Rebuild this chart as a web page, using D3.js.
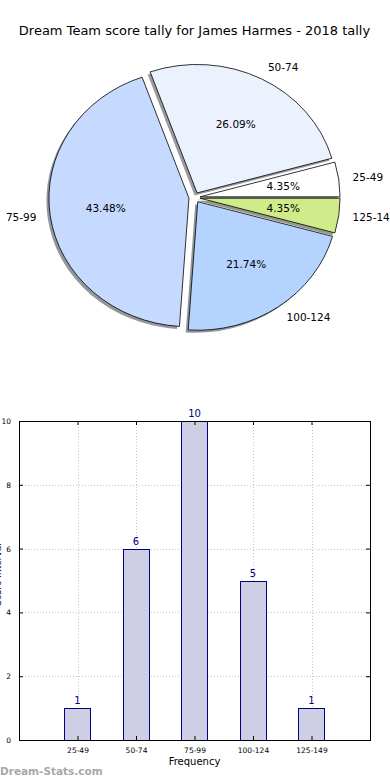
<!DOCTYPE html>
<html>
<head>
<meta charset="utf-8">
<script src="https://cdn.jsdelivr.net/npm/d3@7"></script>
<style>
  body { margin: 0; background: #fff; }
  svg { display: block; font-family: "DejaVu Sans", sans-serif; }
</style>
</head>
<body>
<div id="chart"></div>
<script>
const categories = ["25-49", "50-74", "75-99", "100-124", "125-149"];
const counts = [1, 6, 10, 5, 1];
const sliceColors = ["#ffffff", "#ebf2fe", "#c6d9fe", "#b4d4ff", "#cfeb8a"];
const yTicks = [0, 2, 4, 6, 8, 10];

const width = 390;
const height = 780;

const svg = d3.select("#chart")
    .append("svg")
    .attr("width", width)
    .attr("height", height);

svg.append("text")
    .attr("x", 194.5)
    .attr("y", 35)
    .attr("text-anchor", "middle")
    .style("font-size", "13px")
    .text("Dream Team score tally for James Harmes - 2018 tally");

// ---- pie (elliptical, like matplotlib without equal aspect) ----
const cx = 194.5, cy = 197.5, rx = 140, ry = 128.5;
const explode = 0.04;
const total = d3.sum(counts);

const pie = d3.pie()
    .sort(null)
    .startAngle(Math.PI / 2)
    .endAngle(Math.PI / 2 - 2 * Math.PI);
const arcs = pie(counts);
const unitArc = d3.arc().innerRadius(0).outerRadius(1);

const mid = d => (d.startAngle + d.endAngle) / 2;
const off = d => [explode * rx * Math.sin(mid(d)), -explode * ry * Math.cos(mid(d))];

const pieG = svg.append("g").attr("transform", `translate(${cx},${cy})`);

// shadows first, below every wedge
pieG.selectAll("path.shadow")
    .data(arcs)
    .enter().append("path")
    .attr("class", "shadow")
    .attr("transform", d => `translate(${off(d)[0] - 2.5},${off(d)[1] + 2.5}) scale(${rx},${ry})`)
    .attr("d", unitArc)
    .attr("fill", (d, i) => {
        const c = d3.rgb(sliceColors[i]);
        return d3.rgb(c.r * 0.3, c.g * 0.3, c.b * 0.3);
    })
    .attr("fill-opacity", 0.55)
    .attr("stroke", "none");

pieG.selectAll("path.wedge")
    .data(arcs)
    .enter().append("path")
    .attr("class", "wedge")
    .attr("transform", d => `translate(${off(d)[0]},${off(d)[1]}) scale(${rx},${ry})`)
    .attr("d", unitArc)
    .attr("fill", (d, i) => sliceColors[i])
    .attr("stroke", "#000")
    .attr("stroke-width", 0.8)
    .attr("vector-effect", "non-scaling-stroke");

pieG.selectAll("text.pct")
    .data(arcs)
    .enter().append("text")
    .attr("class", "pct")
    .attr("x", d => off(d)[0] + 0.6 * rx * Math.sin(mid(d)))
    .attr("y", d => off(d)[1] - 0.6 * ry * Math.cos(mid(d)))
    .attr("dy", "0.35em")
    .attr("text-anchor", "middle")
    .style("font-size", "10.5px")
    .text(d => (d.value / total * 100).toFixed(2) + "%");

pieG.selectAll("text.lbl")
    .data(arcs)
    .enter().append("text")
    .attr("class", "lbl")
    .attr("x", d => off(d)[0] + 1.1 * rx * Math.sin(mid(d)))
    .attr("y", d => off(d)[1] - 1.1 * ry * Math.cos(mid(d)))
    .attr("dy", "0.35em")
    .attr("text-anchor", d => Math.sin(mid(d)) > 0 ? "start" : "end")
    .style("font-size", "10.5px")
    .text((d, i) => categories[i]);

// ---- bar chart ----
const m = { left: 19, right: 370, top: 421, bottom: 740 };

const x = d3.scalePoint()
    .domain(categories)
    .range([m.left, m.right])
    .padding(1);
const barW = x.step() * 0.45;

const y = d3.scaleLinear()
    .domain([0, 10])
    .range([m.bottom, m.top]);

const grid = svg.append("g")
    .attr("stroke", "#c4c4c4")
    .attr("stroke-width", 1)
    .attr("stroke-dasharray", "1,2");

grid.selectAll("line.gx")
    .data(categories)
    .enter().append("line")
    .attr("x1", d => Math.round(x(d)) + 0.5)
    .attr("x2", d => Math.round(x(d)) + 0.5)
    .attr("y1", m.top)
    .attr("y2", m.bottom);

grid.selectAll("line.gy")
    .data(yTicks)
    .enter().append("line")
    .attr("y1", d => Math.round(y(d)) + 0.5)
    .attr("y2", d => Math.round(y(d)) + 0.5)
    .attr("x1", m.left)
    .attr("x2", m.right);

svg.selectAll("rect.bar")
    .data(counts)
    .enter().append("rect")
    .attr("class", "bar")
    .attr("x", (d, i) => Math.round(x(categories[i]) - barW / 2) + 0.5)
    .attr("y", d => Math.round(y(d)) + 0.5)
    .attr("width", Math.round(barW))
    .attr("height", d => Math.round(y(0)) - Math.round(y(d)))
    .attr("fill", "#cecee5")
    .attr("stroke", "#000080")
    .attr("stroke-width", 1);

svg.selectAll("text.val")
    .data(counts)
    .enter().append("text")
    .attr("class", "val")
    .attr("x", (d, i) => x(categories[i]))
    .attr("y", d => y(d) - 4)
    .attr("text-anchor", "middle")
    .attr("fill", "#000080")
    .style("font-size", "10px")
    .text(d => d);

// axes: ticks on all four sides, pointing inward
const yLeft = svg.append("g")
    .attr("transform", `translate(${m.left},0)`)
    .call(d3.axisLeft(y).tickValues(yTicks).tickSize(-4).tickPadding(8));
const yRight = svg.append("g")
    .attr("transform", `translate(${m.right},0)`)
    .call(d3.axisRight(y).tickValues(yTicks).tickSize(-4).tickFormat(""));
const xBottom = svg.append("g")
    .attr("transform", `translate(0,${m.bottom})`)
    .call(d3.axisBottom(x).tickSize(-4).tickPadding(8));
const xTop = svg.append("g")
    .attr("transform", `translate(0,${m.top})`)
    .call(d3.axisTop(x).tickSize(-4).tickFormat(""));

[yLeft, yRight, xBottom, xTop].forEach(g => {
    g.select(".domain").remove();
    g.selectAll("text").style("font-size", "7.5px").attr("font-family", "DejaVu Sans").attr("fill", "#000");
});

svg.append("rect")
    .attr("x", m.left + 0.5)
    .attr("y", m.top + 0.5)
    .attr("width", m.right - m.left)
    .attr("height", m.bottom - m.top)
    .attr("fill", "none")
    .attr("stroke", "#000")
    .attr("stroke-width", 1);

svg.append("text")
    .attr("x", (m.left + m.right) / 2)
    .attr("y", 765)
    .attr("text-anchor", "middle")
    .style("font-size", "10px")
    .text("Frequency");

svg.append("text")
    .attr("transform", `translate(1,${(m.top + m.bottom) / 2 - 6}) rotate(-90)`)
    .attr("text-anchor", "middle")
    .style("font-size", "9px")
    .text("Score Interval");

svg.append("text")
    .attr("x", 0)
    .attr("y", 775)
    .attr("fill", "#a8a8a8")
    .style("font-size", "10.5px")
    .style("font-weight", "bold")
    .text("Dream-Stats.com");
</script>
</body>
</html>
